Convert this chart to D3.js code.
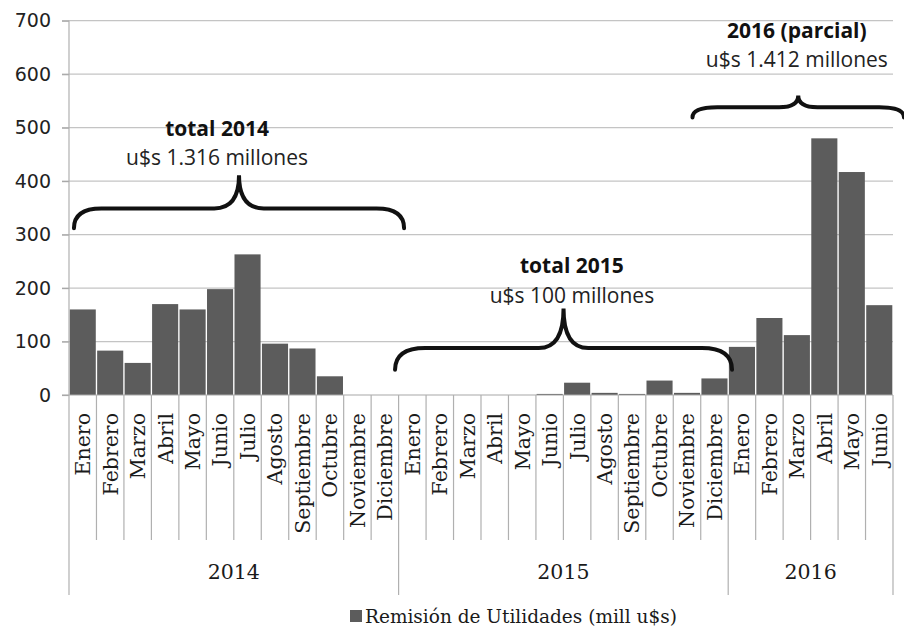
<!DOCTYPE html>
<html>
<head>
<meta charset="utf-8">
<script src="https://cdn.jsdelivr.net/npm/d3@7"></script>
<style>
  body { margin: 0; background: #fff; }
  svg { display: block; }
</style>
</head>
<body>
<div class="chart"></div>
<script>
// data
const years = ["2014", "2015", "2016"];
const months = ["Enero", "Febrero", "Marzo", "Abril", "Mayo", "Junio", "Julio",
  "Agosto", "Septiembre", "Octubre", "Noviembre", "Diciembre"];
const values2014 = [160, 83, 60, 170, 160, 198, 263, 96, 87, 35, 0, 0];
const values2015 = [0, 0, 0, 0, 0, 2, 23, 4, 2, 27, 4, 31];
const values2016 = [90, 144, 112, 480, 417, 168];
const yTicks = [0, 100, 200, 300, 400, 500, 600, 700];
const seriesName = "Remisión de Utilidades (mill u$s)";

// annotation texts (total per year)
const noteTitles = ["total 2014", "total 2015", "2016 (parcial)"];
const noteSubs = ["u$s 1.316 millones", "u$s 100 millones", "u$s 1.412 millones"];

const rows = [];
[values2014, values2015, values2016].forEach((vals, yi) => {
  vals.forEach((v, mi) => rows.push({ key: years[yi] + "-" + mi, year: years[yi], month: months[mi], value: v }));
});

const width = 904, height = 629;
const svg = d3.select(".chart").append("svg")
  .attr("width", width)
  .attr("height", height);

const x = d3.scaleBand()
  .domain(rows.map(d => d.key))
  .range([69, 893])
  .paddingInner(0.05)
  .paddingOuter(0.025);

const y = d3.scaleLinear()
  .domain([0, 700])
  .range([395, 20.7]);

// continuous version of the category axis, for separators and annotations
const xi = d3.scaleLinear().domain([0, rows.length]).range(x.range());

// gridlines
svg.append("g")
  .selectAll("line")
  .data(yTicks.slice(1))
  .enter()
  .append("line")
  .attr("x1", 62).attr("x2", 893)
  .attr("y1", d => y(d)).attr("y2", d => y(d))
  .attr("stroke", "#c4c4c4")
  .attr("stroke-width", 1.2);

// bars
svg.append("g")
  .selectAll("rect")
  .data(rows)
  .enter()
  .append("rect")
  .attr("x", d => x(d.key))
  .attr("y", d => y(d.value))
  .attr("width", x.bandwidth())
  .attr("height", d => y(0) - y(d.value))
  .attr("fill", "#5c5c5c");

// y axis
const yAxis = d3.axisLeft(y).tickValues(yTicks).tickSize(7).tickSizeOuter(0).tickPadding(11);
const yg = svg.append("g")
  .attr("transform", "translate(69,0)")
  .call(yAxis);
yg.select(".domain").remove();
yg.selectAll(".tick line").attr("stroke", "#a8a8a8").attr("stroke-width", 1.2);
yg.selectAll(".tick text")
  .attr("font-family", "DejaVu Sans")
  .attr("font-size", 19)
  .attr("fill", "#222");

// baseline and category separators
svg.append("line")
  .attr("x1", 62).attr("x2", 893)
  .attr("y1", y(0)).attr("y2", y(0))
  .attr("stroke", "#a8a8a8").attr("stroke-width", 1.2);

const yearStarts = [0, 12, 24, 30];
svg.append("g")
  .selectAll("line")
  .data(d3.range(rows.length + 1))
  .enter()
  .append("line")
  .attr("x1", i => xi(i)).attr("x2", i => xi(i))
  .attr("y1", i => i === 0 ? y(700) : y(0))
  .attr("y2", i => yearStarts.includes(i) ? 595 : 540)
  .attr("stroke", "#b0b0b0")
  .attr("stroke-width", 1.2);

// month labels
svg.append("g")
  .selectAll("text")
  .data(rows)
  .enter()
  .append("text")
  .attr("transform", d => "translate(" + (x(d.key) + x.bandwidth() / 2) + ",413) rotate(-90)")
  .attr("dy", "0.36em")
  .attr("text-anchor", "end")
  .attr("font-family", "DejaVu Serif")
  .attr("font-size", 20.5)
  .attr("fill", "#1a1a1a")
  .text(d => d.month);

// year labels
svg.append("g")
  .selectAll("text")
  .data(years)
  .enter()
  .append("text")
  .attr("x", (d, i) => (xi(yearStarts[i]) + xi(yearStarts[i + 1])) / 2)
  .attr("y", 579)
  .attr("text-anchor", "middle")
  .attr("font-family", "DejaVu Serif")
  .attr("font-size", 20.5)
  .attr("fill", "#1a1a1a")
  .text(d => d);

// braces, in category / value units
const braces = [
  { x0: 0.18, x1: 12.2, yEnd: 312, yFlat: 349, yPeak: 411, r: 1.0, c: 0.9 },
  { x0: 11.87, x1: 24.14, yEnd: 47, yFlat: 88, yPeak: 162, r: 1.1, c: 0.9 },
  { x0: 22.7, x1: 30.4, yEnd: 519, yFlat: 538, yPeak: 560, r: 0.9, c: 0.7 }
];
function bracePath(b) {
  const a = xi(b.x0), e = xi(b.x1), m = (a + e) / 2;
  const r = xi(b.r) - xi(0), c = xi(b.c) - xi(0);
  const ye = y(b.yEnd), yf = y(b.yFlat), yp = y(b.yPeak);
  return "M" + a + "," + ye +
    "Q" + a + "," + yf + " " + (a + r) + "," + yf +
    "L" + (m - c) + "," + yf +
    "Q" + m + "," + yf + " " + m + "," + yp +
    "Q" + m + "," + yf + " " + (m + c) + "," + yf +
    "L" + (e - r) + "," + yf +
    "Q" + e + "," + yf + " " + e + "," + ye;
}
svg.append("g")
  .selectAll("path")
  .data(braces)
  .enter()
  .append("path")
  .attr("d", bracePath)
  .attr("fill", "none")
  .attr("stroke", "#111")
  .attr("stroke-width", 4)
  .attr("stroke-linecap", "round");

// annotation texts
const notePos = [
  { cx: 5.39, yt: 485, ys: 430 },
  { cx: 18.31, yt: 228, ys: 172 },
  { cx: 26.5, yt: 668, ys: 614 }
];
const notes = svg.append("g").attr("font-family", "Open Sans").attr("text-anchor", "middle");
notes.selectAll(".t")
  .data(notePos)
  .enter()
  .append("text")
  .attr("class", "t")
  .attr("x", d => xi(d.cx))
  .attr("y", d => y(d.yt))
  .attr("font-size", 21)
  .attr("font-weight", "bold")
  .attr("fill", "#111")
  .text((d, i) => noteTitles[i]);
notes.selectAll(".s")
  .data(notePos)
  .enter()
  .append("text")
  .attr("class", "s")
  .attr("x", d => xi(d.cx))
  .attr("y", d => y(d.ys))
  .attr("font-size", 21)
  .attr("fill", "#222")
  .text((d, i) => noteSubs[i]);

// legend
const legend = svg.append("g").attr("transform", "translate(350,610)");
legend.append("rect")
  .attr("width", 12).attr("height", 12)
  .attr("fill", "#5c5c5c");
legend.append("text")
  .attr("x", 15).attr("y", 12.5)
  .attr("font-family", "DejaVu Serif")
  .attr("font-size", 18.5)
  .attr("fill", "#1a1a1a")
  .text(seriesName);
</script>
</body>
</html>
